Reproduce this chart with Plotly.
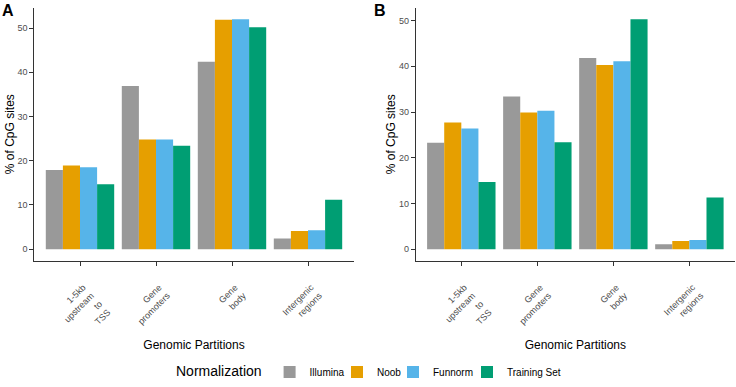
import plotly.graph_objects as go

categories = ["1-5kb<br>upstream<br>to<br>TSS", "Gene<br>promoters", "Gene<br>body", "Intergenic<br>regions"]
series_names = ["Illumina", "Noob", "Funnorm", "Training Set"]
colors = ["#999999", "#E69F00", "#56B4E9", "#009E73"]

panel_a = {
    "Illumina": [17.9, 36.9, 42.4, 2.4],
    "Noob": [18.9, 24.8, 51.9, 4.1],
    "Funnorm": [18.5, 24.8, 52.0, 4.3],
    "Training Set": [14.7, 23.4, 50.2, 11.2],
}
panel_b = {
    "Illumina": [23.3, 33.4, 41.8, 1.1],
    "Noob": [27.7, 29.9, 40.3, 1.8],
    "Funnorm": [26.4, 30.3, 41.1, 2.0],
    "Training Set": [14.7, 23.4, 50.3, 11.3],
}

W, H = 736, 387
FONT = "Liberation Sans"
legend_ids = ["legend", "legend2", "legend3", "legend4"]
# left edge (px) of each legend entry box
legend_left = [174, 337, 393, 467]

fig = go.Figure()
for i, name in enumerate(series_names):
    fig.add_trace(go.Bar(x=categories, y=panel_a[name], name=name, marker_color=colors[i],
                         marker_line_width=0, xaxis="x", yaxis="y", legendgroup=name,
                         legend=legend_ids[i]))
    fig.add_trace(go.Bar(x=categories, y=panel_b[name], name=name, marker_color=colors[i],
                         marker_line_width=0, xaxis="x2", yaxis="y2", legendgroup=name,
                         showlegend=False, legend=legend_ids[i]))

def yrange(d):
    m = max(max(v) for v in d.values())
    return [-0.05 * m, 1.05 * m]

ydom = [(H - 269) / H, (H - 8) / H]
common_x = dict(type="category", range=[-0.6, 3.6], showgrid=False, zeroline=False,
                showline=True, linecolor="#333333", linewidth=1, ticks="outside",
                ticklen=4, tickcolor="#333333", tickangle=-45,
                tickfont=dict(family=FONT, size=9, color="#4D4D4D"),
                title=dict(text="Genomic Partitions", standoff=0,
                           font=dict(family=FONT, size=12, color="#000000")),
                automargin=False, fixedrange=True, ticklabelshift=3, ticklabelstandoff=13)
common_y = dict(showgrid=False, zeroline=False, showline=True, linecolor="#333333", linewidth=1,
                ticks="outside", ticklen=4, tickcolor="#333333", dtick=10,
                tickfont=dict(family=FONT, size=9, color="#4D4D4D"),
                title=dict(text="% of CpG sites", standoff=0,
                           font=dict(family=FONT, size=12, color="#000000")),
                automargin=False, fixedrange=True)

leg_common = dict(orientation="h", xanchor="left", y=3 / H, yanchor="middle",
                  font=dict(family=FONT, size=10, color="#000000"), bgcolor="rgba(0,0,0,0)")
legends = {}
for i, lid in enumerate(legend_ids):
    d = dict(leg_common, x=legend_left[i] / W)
    if i == 0:
        d["title"] = dict(text="Normalization", font=dict(family=FONT, size=14, color="#000000"))
    legends[lid] = d

fig.update_layout(
    width=W, height=H,
    margin=dict(l=0, r=0, t=0, b=0),
    paper_bgcolor="white", plot_bgcolor="white",
    barmode="group", bargap=0.1, bargroupgap=0,
    font=dict(family=FONT),
    xaxis=dict(domain=[34.4 / W, 353.6 / W], anchor="y", **common_x),
    yaxis=dict(domain=ydom, anchor="x", range=yrange(panel_a), **common_y),
    xaxis2=dict(domain=[415.7 / W, 735 / W], anchor="y2", **common_x),
    yaxis2=dict(domain=ydom, anchor="x2", range=yrange(panel_b), **common_y),
    annotations=[
        dict(text="<b>A</b>", x=0, y=1, xref="paper", yref="paper", xanchor="left", yanchor="top",
             showarrow=False, font=dict(family=FONT, size=16, color="#000000")),
        dict(text="<b>B</b>", x=372 / W, y=1, xref="paper", yref="paper", xanchor="left", yanchor="top",
             showarrow=False, font=dict(family=FONT, size=16, color="#000000")),
    ],
    **legends,
)

fig.write_html("out.html", config={"displayModeBar": False},
               post_script="document.body.style.margin='0';document.body.style.overflow='hidden';")
